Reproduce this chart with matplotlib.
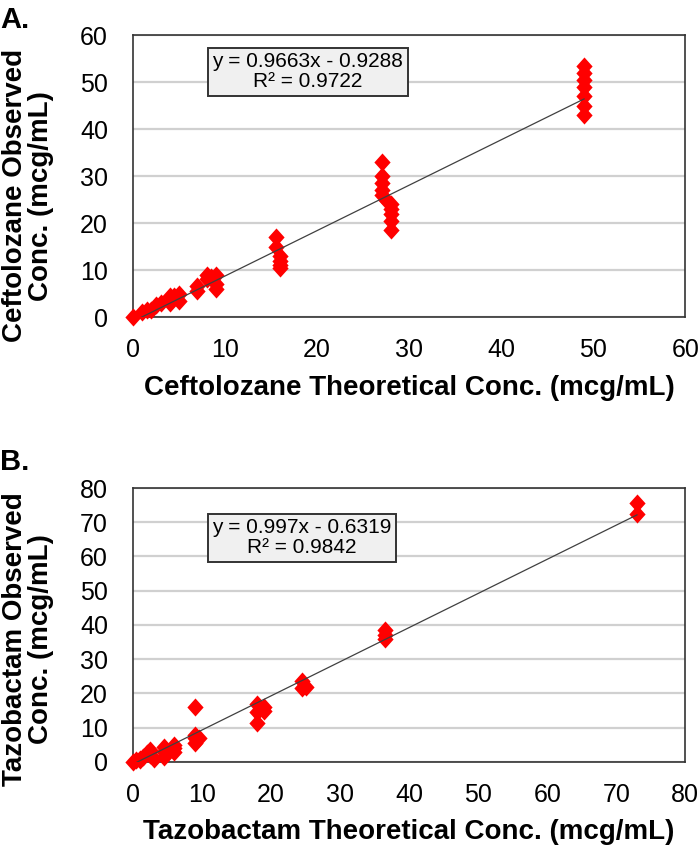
import matplotlib.pyplot as plt
import numpy as np

plt.rcParams['font.family'] = ['Liberation Sans', 'DejaVu Sans']

# Panel A: ceftolozane
cef_theo = [0, 1, 1.5, 2, 2.5, 3, 4, 4, 4.5, 5, 5, 7, 7, 8, 8, 8.5, 9, 9, 9,
            15.5, 15.5, 16, 16, 16, 16,
            27, 27, 27, 27, 27, 27.5, 28, 28, 28, 28, 28,
            49, 49, 49, 49, 49, 49, 49]
cef_obs = [0, 1, 1.5, 1.5, 2.5, 3, 3, 4.5, 4.5, 3.5, 5, 5.5, 6.5, 8, 9, 8.5, 6, 7, 9,
           17, 15, 13, 12, 11, 10.5,
           33, 30, 28.5, 27, 26, 25, 24, 23, 22, 20.5, 18.5,
           53.5, 52, 50.5, 49, 47, 45, 43]
cef_fit = (0.9663, -0.9288)
cef_eq = "y = 0.9663x - 0.9288\nR² = 0.9722"

# Panel B: tazobactam
taz_theo = [0, 0.5, 1, 1, 1.5, 2, 2.5, 2.5, 3, 4.5, 4.5, 4.5, 5, 6, 6, 6,
            9, 9, 9, 9, 9.5, 18, 18, 18, 19, 19,
            24.5, 24.5, 25, 36.5, 36.5, 36.5, 73, 73]
taz_obs = [0, 0.5, 0.5, 1, 1.5, 2.5, 3.5, 2, 1, 1.5, 3, 4.5, 3, 3, 5, 4,
           16, 8, 7, 5.5, 7, 17, 14.5, 11.5, 16, 15,
           23.5, 21.5, 22, 38.5, 37, 36, 75.5, 72.5]
taz_fit = (0.997, -0.6319)
taz_eq = "y = 0.997x - 0.6319\nR² = 0.9842"

# slightly tall diamond like the Excel marker
diamond = [(0, 1), (0.9, 0), (0, -1), (-0.9, 0), (0, 1)]

fig = plt.figure(figsize=(7, 8.49), dpi=100)

panels = [
    ([0.19, 0.6266, 0.789, 0.332], cef_theo, cef_obs, cef_fit, cef_eq, 60, (19, 52.2),
     "Ceftolozane Observed\nConc. (mcg/mL)", "Ceftolozane Theoretical Conc. (mcg/mL)",
     "A.", 0.976, 0.43, -0.252),
    ([0.19, 0.1025, 0.789, 0.3227], taz_theo, taz_obs, taz_fit, taz_eq, 80, (24.5, 65.5),
     "Tazobactam Observed\nConc. (mcg/mL)", "Tazobactam Theoretical Conc. (mcg/mL)",
     "B.", 0.456, 0.45, -0.255),
]

for (rect, xs, ys, fit, eq, lim, eqpos, ylab, xlab,
     tag, tag_y, ylab_y, xlab_y) in panels:
    ax = fig.add_axes(rect)
    ax.set_xlim(0, lim)
    ax.set_ylim(0, lim)
    ax.set_xticks(np.arange(0, lim + 1, 10))
    ax.set_yticks(np.arange(0, lim + 1, 10))
    ax.grid(axis='y', color='#d0d0d0', linewidth=1.6)
    ax.set_axisbelow(True)
    ax.tick_params(length=0, labelsize=18)
    ax.tick_params(axis='x', pad=15)
    ax.tick_params(axis='y', pad=18)
    for s in ax.spines.values():
        s.set_color('#333333')
        s.set_linewidth(1.2)

    ax.plot(xs, ys, linestyle='none', marker=diamond, markersize=13,
            color='#ff0000', markeredgewidth=0, clip_on=False, zorder=3)

    xl = np.array([0, max(xs)])
    ax.plot(xl, fit[0] * xl + fit[1], color='#404040', linewidth=0.9, zorder=4)

    ax.text(eqpos[0], eqpos[1], eq, ha='center', va='center', fontsize=15,
            linespacing=1.05,
            bbox=dict(boxstyle='square,pad=0.22', facecolor='#f0f0f0',
                      edgecolor='#333333', linewidth=1.4))

    ax.set_xlabel(xlab, fontsize=20, fontweight='bold')
    ax.xaxis.label.set_va('center')
    ax.xaxis.set_label_coords(0.5, xlab_y)
    ax.set_ylabel(ylab, fontsize=20, fontweight='bold', linespacing=1.0)
    ax.yaxis.label.set_va('center')
    ax.yaxis.set_label_coords(-0.19, ylab_y)

    fig.text(0.0, tag_y, tag, fontsize=21, fontweight='bold',
             ha='left', va='center')

fig.savefig('out.png', dpi=100)
